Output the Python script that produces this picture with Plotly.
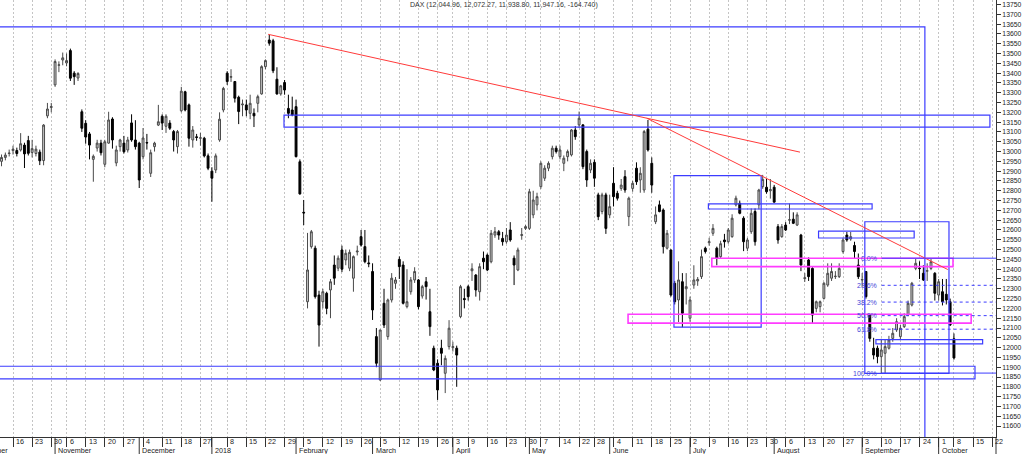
import pandas as pd
import plotly.graph_objects as go

# ---------------- data ----------------
HOLIDAYS = ["2017-10-03", "2017-10-31", "2017-12-25", "2017-12-26", "2018-01-01",
            "2018-03-30", "2018-04-02", "2018-05-01", "2018-05-21", "2018-10-03"]
FIRST_DAY = "2017-10-11"
LAST_DAY = "2018-10-08"

opens = [12950, 12970, 12990,
         13005, 13005, 13008, 13033, 13056,
         12995, 12990, 12997, 12954, 13182,
         13225, 13340, 13440, 13467,
         13452, 13515, 13400, 13375, 13203,
         13144, 13090, 12960, 13018, 13043,
         12935, 13043, 13166, 12942, 13025,
         13043, 13008, 13146, 13059, 13043,
         12974, 13046, 12889, 13025, 13135,
         13180, 13129, 13145, 13102, 13025,
         13208, 13305, 13238, 13059, 13075,
         13068, 13068, 12978,
         12900, 12906, 13059, 13212,
         13400, 13379, 13357, 13277, 13238,
         13238, 13195, 13195, 13246, 13294,
         13433, 13569, 13565, 13369, 13294,
         13352, 13220, 13212, 13229, 12948,
         12690, 12234, 12515, 12507, 12268,
         12234, 12277, 12294, 12421, 12405,
         12498, 12447, 12405, 12354, 12488,
         12566, 12515, 12432, 12388, 12056,
         11835, 12226, 12056, 12243, 12328,
         12450, 12421, 12209, 12285, 12345,
         12345, 12263, 12336, 12183, 11997,
         11920, 11997, 11869, 12005,
         12000, 11997, 12158, 12250,
         12311, 12392, 12370, 12285, 12456,
         12472, 12438, 12574, 12591, 12557,
         12540, 12600, 12456, 12396, 12572,
         12608, 12608, 12677, 12728,
         12821, 12864, 12915, 12974, 13017,
         12974, 12940, 12974, 12983, 13110,
         13136, 13136, 13000, 12906,
         12945, 12779, 12694, 12779, 12677,
         12838, 12787, 12812, 12872, 12668,
         12812, 12915, 12855, 12804, 13114,
         12940, 12642, 12728, 12702, 12507,
         12498, 12328, 12243, 12336, 12300,
         12150, 12319, 12340, 12362, 12507,
         12535, 12583, 12507, 12464, 12549,
         12540, 12566, 12728, 12736, 12660,
         12507, 12591, 12694, 12728, 12821,
         12818, 12800, 12818, 12617, 12566,
         12625, 12650, 12655, 12625, 12574,
         12352, 12447, 12404, 12200, 12209,
         12251, 12319, 12354, 12362, 12362,
         12490, 12574, 12554, 12521, 12421,
         12345, 12388, 12166, 11997, 11997,
         11954, 11971, 11997, 12047, 12090,
         12056, 12107, 12166, 12217, 12404,
         12405, 12379, 12390, 12404, 12379,
         12268, 12285, 12272, 12234,
         12044.96]

highs = [12985, 12995, 13010,
         13030, 13020, 13094, 13045, 13080,
         13060, 13030, 13010, 13140, 13248,
         13248, 13470, 13460, 13505,
         13500, 13525, 13410, 13405, 13215,
         13160, 13100, 12985, 13060, 13060,
         13060, 13203, 13175, 13030, 13065,
         13080, 13075, 13190, 13160, 13050,
         13120, 13090, 13010, 13050, 13238,
         13190, 13190, 13160, 13110, 13110,
         13330, 13310, 13245, 13130, 13090,
         13095, 13075, 12990,
         12920, 12990, 13200, 13330,
         13410, 13420, 13360, 13285, 13265,
         13265, 13290, 13220, 13290, 13440,
         13470, 13595, 13575, 13430, 13340,
         13365, 13290, 13280, 13265, 12960,
         12753, 12585, 12600, 12520, 12290,
         12300, 12285, 12350, 12470, 12470,
         12520, 12500, 12500, 12470, 12520,
         12600, 12600, 12470, 12430, 12100,
         12090, 12300, 12250, 12380, 12360,
         12465, 12440, 12400, 12360, 12410,
         12350, 12320, 12360, 12300, 12010,
         11940, 12040, 11960, 12140,
         12030, 12010, 12320, 12300,
         12320, 12430, 12375, 12430, 12490,
         12480, 12600, 12615, 12600, 12590,
         12610, 12640, 12470, 12510, 12610,
         12625, 12810, 12800, 12790,
         12950, 12930, 12950, 13030, 13030,
         13030, 12980, 13010, 13115, 13130,
         13204, 13140, 13010, 12960,
         12960, 12790, 12790, 12790, 12780,
         12920, 12800, 12860, 12905, 12770,
         12850, 12945, 12920, 13110, 13161,
         12970, 12720, 12750, 12710, 12600,
         12500, 12340, 12440, 12380, 12380,
         12260, 12420, 12360, 12500, 12515,
         12560, 12630, 12515, 12545, 12580,
         12610, 12680, 12775, 12750, 12670,
         12560, 12710, 12710, 12810, 12881,
         12860, 12860, 12830, 12630, 12630,
         12640, 12735, 12690, 12690, 12580,
         12380, 12460, 12410, 12240, 12240,
         12335, 12430, 12430, 12390, 12430,
         12560, 12590, 12590, 12540, 12480,
         12380, 12390, 12170, 12050, 12010,
         12045, 12040, 12060, 12100, 12150,
         12115, 12175, 12240, 12335, 12456,
         12440, 12420, 12430, 12456, 12385,
         12350, 12350, 12350, 12250,
         12072.27]

lows = [12925, 12955, 12975,
        12985, 12975, 13000, 12916, 12980,
        12970, 12975, 12931, 12930, 13170,
        13200, 13330, 13405, 13440,
        13435, 13360, 13340, 13360, 13100,
        13040, 12960, 12846, 13000, 12980,
        12920, 13040, 13015, 12925, 13000,
        12990, 12995, 13050, 13010, 12814,
        12960, 13010, 12870, 13000, 13130,
        13110, 13095, 13110, 13000, 12990,
        13200, 13205, 13025, 13020, 13055,
        13030, 12970, 12905,
        12744, 12890, 13050, 13200,
        13340, 13355, 13250, 13140, 13180,
        13180, 13165, 13125, 13200, 13290,
        13420, 13540, 13400, 13290, 13285,
        13290, 13170, 13180, 12970, 12780,
        12625, 12200, 12505, 12250, 12005,
        12200, 12170, 12150, 12320, 12390,
        12385, 12420, 12390, 12285, 12470,
        12515, 12430, 12410, 12141, 11900,
        11830, 12100, 12040, 12230, 12300,
        12350, 12220, 12200, 12270, 12330,
        12195, 12250, 12245, 12060, 11880,
        11733, 11910, 11768, 11990,
        11980, 11800, 12150, 12200,
        12240, 12340, 12260, 12240, 12400,
        12390, 12430, 12560, 12550, 12520,
        12530, 12540, 12319, 12390, 12550,
        12600, 12600, 12660, 12700,
        12810, 12850, 12900, 12960, 12990,
        12960, 12900, 12950, 12975, 13060,
        13120, 12910, 12820, 12890,
        12820, 12650, 12680, 12580, 12660,
        12720, 12750, 12800, 12790, 12620,
        12795, 12830, 12790, 12790, 13000,
        12790, 12630, 12690, 12480, 12500,
        12260, 12220, 12130, 12104, 12220,
        12132, 12300, 12315, 12350, 12480,
        12520, 12570, 12420, 12455, 12510,
        12530, 12560, 12720, 12680, 12492,
        12492, 12580, 12520, 12705, 12810,
        12785, 12760, 12740, 12530, 12560,
        12595, 12630, 12630, 12620, 12390,
        12335, 12340, 12124, 12180, 12180,
        12245, 12310, 12340, 12350, 12355,
        12480, 12540, 12545, 12455, 12350,
        12310, 12250, 12030, 11940, 11920,
        11869, 11869, 11990, 12030, 12080,
        12040, 12100, 12160, 12210, 12395,
        12350, 12340, 12340, 12395, 12240,
        12240, 12215, 12220, 12110,
        11938.80]

closes = [12970, 12982, 12992,
          13012, 12990, 13040, 12988, 12991,
          13015, 13012, 12953, 13135, 13217,
          13229, 13459, 13442, 13478,
          13464, 13374, 13382, 13398, 13119,
          13074, 13033, 12976, 13043, 12994,
          13050, 13161, 13059, 13008, 13059,
          12999, 13059, 13059, 13025, 12855,
          13069, 13044, 12994, 13043, 13152,
          13145, 13180, 13119, 13059, 13102,
          13308, 13212, 13068, 13110, 13072,
          13070, 12978, 12915,
          12864, 12978, 13165, 13322,
          13357, 13382, 13272, 13204, 13242,
          13212, 13246, 13182, 13280, 13433,
          13464, 13553, 13412, 13294, 13335,
          13314, 13195, 13187, 12974, 12784,
          12687, 12396, 12591, 12260, 12115,
          12285, 12200, 12336, 12354, 12456,
          12400, 12481, 12486, 12464, 12492,
          12523, 12438, 12428, 12192, 11920,
          12090, 12115, 12243, 12354, 12345,
          12413, 12226, 12234, 12345, 12388,
          12209, 12311, 12311, 12107, 11886,
          11784, 11971, 11945, 12099,
          12005, 11962, 12311, 12245,
          12260, 12402, 12294, 12413, 12438,
          12396, 12583, 12591, 12574, 12540,
          12574, 12549, 12421, 12498, 12576,
          12617, 12795, 12753, 12770,
          12940, 12915, 12940, 13017, 13000,
          13008, 12966, 13000, 13110, 13076,
          13170, 12923, 12855, 12940,
          12864, 12668, 12779, 12608, 12719,
          12770, 12762, 12829, 12804, 12762,
          12838, 12846, 12889, 13102, 13008,
          12829, 12677, 12694, 12515, 12583,
          12268, 12234, 12345, 12175, 12311,
          12243, 12345, 12348, 12464, 12490,
          12540, 12608, 12456, 12530, 12540,
          12600, 12660, 12762, 12685, 12540,
          12549, 12685, 12540, 12804, 12858,
          12795, 12806, 12742, 12549, 12617,
          12600, 12652, 12634, 12677, 12421,
          12356, 12362, 12166, 12234, 12234,
          12328, 12379, 12388, 12364, 12404,
          12549, 12549, 12566, 12490, 12362,
          12347, 12260, 12047, 11962, 11954,
          11988, 12005, 12039, 12073, 12132,
          12099, 12158, 12226, 12328, 12430,
          12403, 12345, 12392, 12438, 12277,
          12336, 12234, 12243, 12115,
          11947.16]

TITLE = "DAX (12,044.96, 12,072.27, 11,938.80, 11,947.16, -164.740)"

# drawn zones: (start date, offset, end date, offset, low, high)
blue_zones = [
    ("2017-09-25", 0.0, "2018-09-25", 0.4, 11000, 13636),
    ("2018-01-29", -0.15, "2018-10-19", 0.4, 13125, 13186),
    ("2017-09-25", 0.0, "2018-10-15", 0.5, 11840, 11905),
    ("2018-06-26", -0.2, "2018-07-26", 0.6, 12104, 12877),
    ("2018-07-06", 0.8, "2018-09-05", 0.6, 12707, 12733),
    ("2018-08-16", 0.6, "2018-09-20", 0.6, 12559, 12594),
    ("2018-09-03", 0.7, "2018-10-04", 0.7, 11869, 12642),
    ("2018-09-06", 0.6, "2018-10-17", 0.5, 12019, 12041),
]
magenta_zones = [
    ("2018-07-09", 0.7, "2018-10-05", 0.75, 12413, 12456),
    ("2018-06-08", -0.2, "2018-10-12", 0.5, 12125, 12170),
]
# trend lines: (date, offset, price, date, offset, price)
trend_lines = [
    ("2018-01-23", -0.3, 13598, "2018-08-10", -0.25, 12997),
    ("2018-06-15", -0.3, 13170, "2018-10-04", 0.4, 12398),
]
fib_high = 12456
fib_low = 11870
fib_ratios = [0.0, 0.236, 0.382, 0.5, 0.618, 1.0]
fib_labels = ["0.0%", "23.6%", "38.2%", "50.0%", "61.8%", "100.0%"]
fib_start = ("2018-09-10", 0.1)

# ---------------- calendar / axis mapping ----------------
cal = [d for d in pd.bdate_range("2017-09-25", "2018-11-02")
       if d.strftime("%Y-%m-%d") not in HOLIDAYS]
pos = {d.strftime("%Y-%m-%d"): i for i, d in enumerate(cal)}
data_days = [d for d in cal if FIRST_DAY <= d.strftime("%Y-%m-%d") <= LAST_DAY]
assert len(data_days) == len(opens) == len(highs) == len(lows) == len(closes), \
    (len(data_days), len(opens), len(highs), len(lows), len(closes))
xs = [pos[d.strftime("%Y-%m-%d")] for d in data_days]

PLOT_W, PLOT_H = 996, 437
PX_PER_DAY = 3.825
P_REF = pos["2017-10-16"]
XR = [P_REF - 13 / PX_PER_DAY, P_REF + (PLOT_W - 13) / PX_PER_DAY]
YR = [11544, 13773]


def px(date, off=0.0):
    return pos[date] + off


def to_paper_x(p):
    return (p - XR[0]) / (XR[1] - XR[0])


# week ticks (first trading day of each week) and month starts
week_ticks, month_ticks = [], []
prev = None
for i, d in enumerate(cal):
    if prev is None or d.isocalendar()[1] != prev.isocalendar()[1]:
        week_ticks.append((i, d))
    if prev is None or d.month != prev.month:
        month_ticks.append((i, d))
    prev = d

BLUE = "#3c3cff"
MAGENTA = "#ff3cff"
RED = "#ff3a3a"
FONT = "Liberation Sans, Arial, sans-serif"

fig = go.Figure()
fig.add_trace(go.Candlestick(
    x=xs, open=opens, high=highs, low=lows, close=closes,
    increasing=dict(fillcolor="#cdcdcd", line=dict(color="#4a4a4a", width=1)),
    decreasing=dict(fillcolor="#000000", line=dict(color="#000000", width=1)),
    whiskerwidth=0, hoverinfo="skip", showlegend=False,
))

shapes = []
for d0, o0, d1, o1, lo, hi in blue_zones:
    shapes.append(dict(type="rect", xref="x", yref="y", x0=px(d0, o0), x1=px(d1, o1),
                       y0=lo, y1=hi, line=dict(color=BLUE, width=1.2),
                       fillcolor="rgba(0,0,0,0)"))
for d0, o0, d1, o1, lo, hi in magenta_zones:
    shapes.append(dict(type="rect", xref="x", yref="y", x0=px(d0, o0), x1=px(d1, o1),
                       y0=lo, y1=hi, line=dict(color=MAGENTA, width=1.6),
                       fillcolor="rgba(0,0,0,0)"))
for d0, o0, v0, d1, o1, v1 in trend_lines:
    shapes.append(dict(type="line", xref="x", yref="y", x0=px(d0, o0), x1=px(d1, o1),
                       y0=v0, y1=v1, line=dict(color=RED, width=1)))

annotations = []
fx0 = px(*fib_start)
for r, lab in zip(fib_ratios, fib_labels):
    lvl = fib_high - r * (fib_high - fib_low)
    solid = r in (0.0, 1.0)
    shapes.append(dict(type="line", xref="x", yref="y", x0=fx0, x1=XR[1] + 5,
                       y0=lvl, y1=lvl,
                       line=dict(color=BLUE, width=1, dash="solid" if solid else "3px,3px")))
    annotations.append(dict(xref="x", yref="y", x=fx0, y=lvl, text=lab, showarrow=False,
                            xanchor="right", yanchor="middle", xshift=-3,
                            font=dict(family=FONT, size=7, color="#4646d8")))

# month tick marks (long) below axis
for i, d in month_ticks:
    xp = to_paper_x(i)
    if xp < -0.035 or xp > 0.99:
        continue
    if xp >= 0:
        shapes.append(dict(type="line", xref="paper", yref="paper", x0=xp, x1=xp,
                           y0=0, y1=-17 / PLOT_H, line=dict(color="#333333", width=1)))
    label = str(d.year) if d.month == 1 else d.strftime("%B")
    annotations.append(dict(xref="paper", yref="paper", x=xp, y=-13.5 / PLOT_H,
                            text=label, showarrow=False, xanchor="left", yanchor="middle",
                            xshift=1, font=dict(family=FONT, size=7.2, color="#222222")))
# day labels for weekly ticks
for i, d in week_ticks:
    xp = to_paper_x(i)
    if xp < 0 or xp > 1.0:
        continue
    if d.month == 1 and d.day <= 3:
        continue
    annotations.append(dict(xref="paper", yref="paper", x=xp, y=-4.8 / PLOT_H,
                            text=str(d.day), showarrow=False, xanchor="left",
                            yanchor="middle", xshift=1,
                            font=dict(family=FONT, size=7.2, color="#222222")))
# right axis extension through the date band
shapes.append(dict(type="line", xref="paper", yref="paper", x0=1, x1=1, y0=0,
                   y1=-17 / PLOT_H, line=dict(color="#333333", width=1)))

annotations.append(dict(xref="paper", yref="paper", x=408 / PLOT_W, y=1 - 5 / PLOT_H,
                        text=TITLE, showarrow=False, xanchor="left", yanchor="middle",
                        font=dict(family=FONT, size=7, color="#333333")))

fig.update_layout(
    width=1024, height=454,
    margin=dict(l=0, r=28, t=0, b=17, pad=0),
    paper_bgcolor="white", plot_bgcolor="white",
    showlegend=False,
    shapes=shapes, annotations=annotations,
    xaxis=dict(range=XR, rangeslider=dict(visible=False), type="linear",
               tickvals=[i for i, _ in week_ticks], showticklabels=False,
               ticks="outside", ticklen=9, tickcolor="#333333", tickwidth=1,
               showgrid=True, gridcolor="#c4c4c4", gridwidth=1, griddash="2px,2px",
               showline=True, linecolor="#333333", linewidth=1, zeroline=False,
               fixedrange=True),
    yaxis=dict(range=YR, side="right", tickvals=list(range(11600, 13751, 50)),
               tickformat="d",
               ticks="outside", ticklen=4, tickcolor="#333333",
               tickfont=dict(family=FONT, size=6.8, color="#222222"),
               showgrid=False, showline=True, linecolor="#333333", linewidth=1,
               zeroline=False, fixedrange=True),
)

fig.write_html(
    "out.html",
    config={"displayModeBar": False},
    post_script="document.body.style.margin='0px';document.body.style.overflow='hidden';",
)
